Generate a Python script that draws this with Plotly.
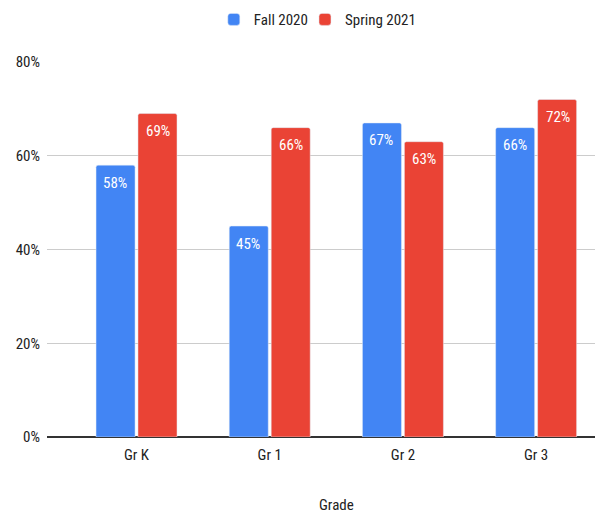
import plotly.graph_objects as go

categories = ["Gr K", "Gr 1", "Gr 2", "Gr 3"]
fall_2020 = [58, 45, 67, 66]
spring_2021 = [69, 66, 63, 72]
y_ticks = [0, 20, 40, 60, 80]
y_tick_labels = ["0%", "20%", "40%", "60%", "80%"]
series = [("Fall 2020", fall_2020, "#4285F4", -21.5, "legend"),
          ("Spring 2021", spring_2021, "#EA4335", 21.5, "legend2")]

font_family = "Liberation Sans Narrow, Roboto Condensed, Liberation Sans, Arial, sans-serif"
text_color = "#222222"

fig = go.Figure()
for name, vals, color, _, leg in series:
    fig.add_trace(go.Bar(
        name=name, x=categories, y=vals,
        marker=dict(color=color, cornerradius=2),
        hoverinfo="skip", legend=leg, showlegend=True,
    ))

# value labels inside the top of each bar
for name, vals, color, xs, _ in series:
    for c, v in zip(categories, vals):
        fig.add_annotation(
            x=c, y=v, xref="x", yref="y", text=f"{v}%", showarrow=False,
            xshift=xs, yshift=-17.5, yanchor="middle", xanchor="center",
            font=dict(color="white", size=15, family=font_family),
        )

# axis title "Grade"
fig.add_annotation(
    x=0.52, y=-0.181, xref="paper", yref="paper", text="Grade", showarrow=False,
    xanchor="center", yanchor="middle",
    font=dict(color=text_color, size=15, family=font_family),
)

legend_common = dict(orientation="h", xanchor="left", y=1.113, yanchor="middle",
                     font=dict(size=15, color=text_color), itemwidth=30,
                     bgcolor="rgba(0,0,0,0)", visible=True)

fig.update_layout(
    width=595, height=507, showlegend=True,
    margin=dict(l=39, r=0, t=54, b=78, autoexpand=False),
    paper_bgcolor="white", plot_bgcolor="white",
    font=dict(family=font_family, size=15, color=text_color),
    barmode="group", bargap=0.37, bargroupgap=0.07,
    legend=dict(x=0.300, **legend_common),
    legend2=dict(x=0.464, **legend_common),
    xaxis=dict(
        range=[-0.672, 3.502], showgrid=False, ticks="", showline=False,
        tickfont=dict(size=15, color=text_color), ticklabelstandoff=7,
    ),
    yaxis=dict(
        range=[0, 80], tickvals=y_ticks, ticktext=y_tick_labels,
        showgrid=True, gridcolor="#cccccc", gridwidth=1,
        zeroline=True, zerolinecolor="#333333", zerolinewidth=1.5,
        tickfont=dict(size=15, color=text_color), ticks="", ticklabelstandoff=6,
    ),
)

fig.write_html("out.html")
